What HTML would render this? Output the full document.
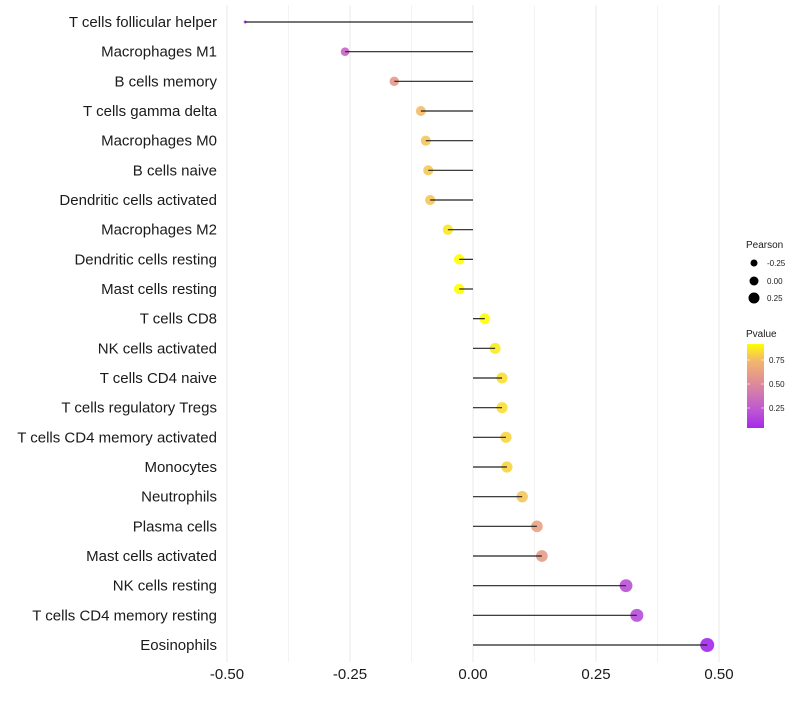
<!DOCTYPE html>
<html><head><meta charset="utf-8"><style>
body{margin:0;background:#fff;font-family:"Liberation Sans",sans-serif}
</style></head><body>
<svg id="c" width="800" height="700" xmlns="http://www.w3.org/2000/svg"></svg>
<script>
const categories=["T cells follicular helper","Macrophages M1","B cells memory","T cells gamma delta","Macrophages M0","B cells naive","Dendritic cells activated","Macrophages M2","Dendritic cells resting","Mast cells resting","T cells CD8","NK cells activated","T cells CD4 naive","T cells regulatory  Tregs ","T cells CD4 memory activated","Monocytes","Neutrophils","Plasma cells","Mast cells activated","NK cells resting","T cells CD4 memory resting","Eosinophils"];
const pearson=[-0.463,-0.26,-0.16,-0.106,-0.096,-0.091,-0.087,-0.051,-0.028,-0.028,0.024,0.045,0.059,0.059,0.067,0.069,0.10,0.13,0.14,0.311,0.333,0.476];
const pvalue=[0.04,0.3,0.58,0.76,0.78,0.79,0.78,0.86,0.92,0.92,0.93,0.87,0.84,0.84,0.82,0.82,0.78,0.63,0.6,0.2,0.18,0.03];
const xTicks=[-0.5,-0.25,0,0.25,0.5];
const xTickLabels=["-0.50","-0.25","0.00","0.25","0.50"];
const NS="http://www.w3.org/2000/svg",svg=document.getElementById('c');
const X=v=>473+v*492, Y=i=>22+i*(623/21);
const sizeStops=[[-0.5,1],[-0.46,1.5],[-0.26,4.3],[-0.1,5],[0.5,7.1]];
function R(v){for(let i=0;i<sizeStops.length-1;i++){const[a,ra]=sizeStops[i],[b,rb]=sizeStops[i+1];if(v<=b)return ra+(rb-ra)*(v-a)/(b-a);}return 7.1;}
const stops=[[0.0,[160,32,240]],[0.25,[192,92,208]],[0.5,[221,138,154]],[0.75,[243,184,108]],[0.92,[255,255,0]],[1,[255,255,0]]];
function col(p){for(let i=0;i<stops.length-1;i++){const[a,ca]=stops[i],[b,cb]=stops[i+1];if(p<=b){const t=(p-a)/(b-a);return`rgb(${ca.map((c,k)=>Math.round(c+(cb[k]-c)*t)).join(',')})`;}}return'rgb(255,255,0)';}
function el(t,a,txt){const e=document.createElementNS(NS,t);for(const k in a)e.setAttribute(k,a[k]);if(txt!=null)e.textContent=txt;svg.appendChild(e);return e;}
[-0.5,-0.375,-0.25,-0.125,0,0.125,0.25,0.375,0.5].forEach(v=>{const g=el('line',{x1:X(v),x2:X(v),y1:5,y2:662,stroke:'#ebebeb','stroke-width':Number.isInteger(v*4)?1.1:0.6});

});
xTicks.forEach((v,i)=>{const t=el('text',{x:X(v),y:679,'text-anchor':'middle','font-size':15,fill:'#1a1a1a'},xTickLabels[i]);

});
categories.forEach((c,i)=>{const y=Y(i);
const t=el('text',{x:217,y:y+5,'text-anchor':'end','font-size':15,fill:'#1a1a1a'},c);


const d=el('circle',{cx:X(pearson[i]),cy:y,r:R(pearson[i]),fill:col(pvalue[i]),'fill-opacity':0.9});


const s=el('line',{x1:X(0),x2:X(pearson[i]),y1:y,y2:y,stroke:'#222','stroke-width':1.2});

});
const lt=el('text',{x:746,y:248,'font-size':10,fill:'#1a1a1a'},'Pearson');


[[3.5,'-0.25',263],[4.5,'0.00',281],[5.5,'0.25',298]].forEach(([r,l,y])=>{
const c=el('circle',{cx:754,cy:y,r:r,fill:'#000'});


const t=el('text',{x:767,y:y+3,'font-size':8,fill:'#1a1a1a'},l);

});
const pt=el('text',{x:746,y:337,'font-size':10,fill:'#1a1a1a'},'Pvalue');


const defs=el('defs',{});const lg=document.createElementNS(NS,'linearGradient');lg.setAttribute('id','g');lg.setAttribute('x1',0);lg.setAttribute('x2',0);lg.setAttribute('y1',1);lg.setAttribute('y2',0);defs.appendChild(lg);
for(let k=0;k<=10;k++){const p=0.042+k*(0.917-0.042)/10;const s=document.createElementNS(NS,'stop');s.setAttribute('offset',k/10);s.setAttribute('stop-color',col(p));lg.appendChild(s);}
const bar=el('rect',{x:747,y:344,width:17,height:84,fill:'url(#g)'});


[['0.75',360],['0.50',384],['0.25',408]].forEach(([l,y])=>{
el('line',{x1:747,x2:750,y1:y,y2:y,stroke:'#fff','stroke-width':0.6});el('line',{x1:761,x2:764,y1:y,y2:y,stroke:'#fff','stroke-width':0.6});
const t=el('text',{x:769,y:y+3,'font-size':8,fill:'#1a1a1a'},l);

});
</script>
</body></html>
